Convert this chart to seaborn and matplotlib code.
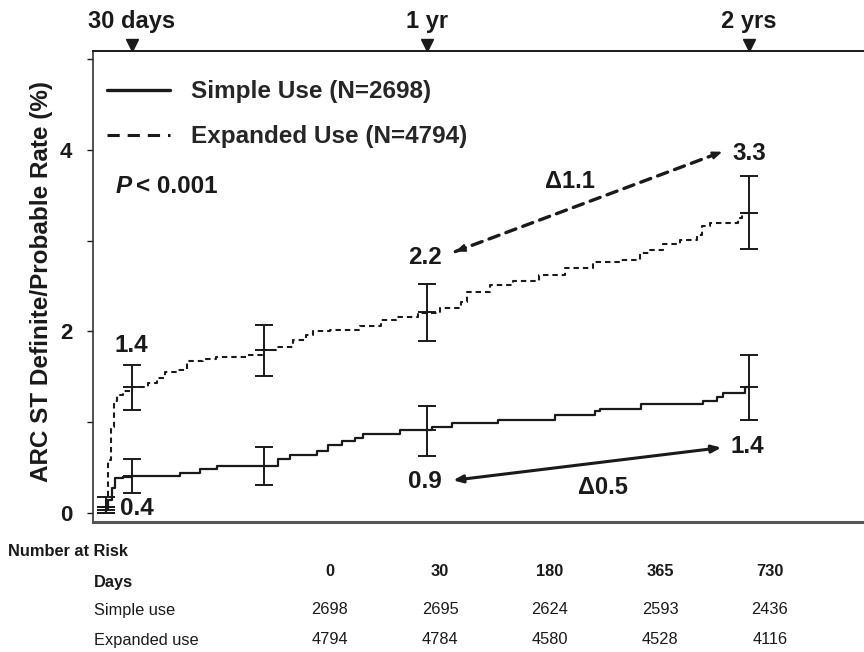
import matplotlib
matplotlib.use("Agg")
import matplotlib.pyplot as plt
import matplotlib.transforms as mtransforms
from matplotlib.lines import Line2D
import numpy as np
import pandas as pd
import seaborn as sns

# ---------------- data ----------------
exp_days = [0, 1, 3, 6, 9, 13, 20, 30, 48, 58, 67, 81, 92, 111, 125, 160, 178, 194,
            213, 228, 235, 255, 289, 313, 330, 355, 380, 404, 410, 436, 462, 492,
            521, 553, 584, 607, 618, 633, 652, 671, 677, 686, 718, 723, 730]
exp_rate = [0.0, 0.14, 0.58, 0.95, 1.23, 1.30, 1.34, 1.39, 1.43, 1.49, 1.55, 1.58,
            1.67, 1.70, 1.72, 1.74, 1.80, 1.83, 1.91, 1.96, 2.00, 2.02, 2.06, 2.13,
            2.16, 2.20, 2.26, 2.33, 2.44, 2.51, 2.56, 2.62, 2.70, 2.77, 2.79, 2.86,
            2.90, 2.96, 3.01, 3.06, 3.16, 3.19, 3.25, 3.31, 3.31]

simple_days = [0, 1, 3, 7, 11, 20, 30, 84, 107, 126, 196, 209, 240, 253, 268, 283,
               292, 334, 370, 393, 446, 510, 556, 561, 608, 678, 694, 701, 726, 730]
simple_rate = [0.0, 0.04, 0.14, 0.27, 0.38, 0.40, 0.41, 0.44, 0.48, 0.52, 0.60, 0.64,
               0.68, 0.75, 0.79, 0.83, 0.87, 0.91, 0.95, 0.99, 1.03, 1.08, 1.12, 1.15,
               1.20, 1.23, 1.28, 1.32, 1.39, 1.39]

eb_days = [1, 30, 180, 365, 730]
exp_mid = [0.07, 1.39, 1.80, 2.21, 3.31]
exp_lo = [0.00, 1.13, 1.51, 1.89, 2.91]
exp_hi = [0.18, 1.63, 2.07, 2.52, 3.71]
simple_mid = [0.03, 0.41, 0.52, 0.91, 1.39]
simple_lo = [0.00, 0.22, 0.31, 0.63, 1.03]
simple_hi = [0.07, 0.59, 0.73, 1.18, 1.74]

marker_days = [30, 365, 730]
marker_labels = ["30 days", "1 yr", "2 yrs"]

legend_labels = ["Simple Use (N=2698)", "Expanded Use (N=4794)"]

risk_days = ["0", "30", "180", "365", "730"]
risk_simple = ["2698", "2695", "2624", "2593", "2436"]
risk_expanded = ["4794", "4784", "4580", "4528", "4116"]

y_ticks = [0, 1, 2, 3, 4, 5]
y_ticklabels = ["0", "", "2", "", "4", ""]

# ---------------- style ----------------
sns.set_style("ticks")
plt.rcParams["font.family"] = ["Liberation Sans", "DejaVu Sans"]
INK = "#1a1a1a"

W, H = 864, 652
fig = plt.figure(figsize=(8.64, 6.52), dpi=100)
ax = fig.add_axes([93 / W, (H - 521.7) / H, (W - 93) / W, 470.7 / H])

df_exp = pd.DataFrame({"day": exp_days, "rate": exp_rate})
df_sim = pd.DataFrame({"day": simple_days, "rate": simple_rate})

sns.lineplot(data=df_sim, x="day", y="rate", estimator=None, drawstyle="steps-post",
             color=INK, lw=1.6, ax=ax)
sns.lineplot(data=df_exp, x="day", y="rate", estimator=None, drawstyle="steps-post",
             color=INK, lw=1.5, ax=ax)
ax.lines[-1].set_dashes([2.6, 1.9])

for mid, lo, hi in [(exp_mid, exp_lo, exp_hi), (simple_mid, simple_lo, simple_hi)]:
    mid = np.array(mid); lo = np.array(lo); hi = np.array(hi)
    ax.errorbar(eb_days, mid, yerr=[mid - lo, hi - mid], fmt="_", ms=13, mew=1.4,
                color=INK, ecolor=INK, elinewidth=1.4, capsize=6.5,
                capthick=1.4, zorder=3)

ax.set_xlim(-14.3, 861)
ax.set_ylim(-0.096, 5.09)
ax.set_yticks(y_ticks)
ax.set_yticklabels(y_ticklabels, fontsize=16, fontweight="bold")
ax.tick_params(axis="y", direction="out", length=4, width=1, pad=11, colors=INK)
ax.set_xticks([])
ax.set_xlabel("")
ax.set_ylabel("")
ax.spines["right"].set_visible(False)
ax.spines["top"].set_linewidth(1.4)
ax.spines["top"].set_color(INK)
ax.spines["left"].set_linewidth(1.2)
ax.spines["left"].set_color("#333333")
ax.spines["bottom"].set_linewidth(2.2)
ax.spines["bottom"].set_color("#555555")

fig.text(42 / W, 1 - 281 / H, "ARC ST Definite/Probable Rate (%)", rotation=90,
         ha="center", va="center", fontsize=17.5, fontweight="bold", color=INK)

# top markers
trans = mtransforms.blended_transform_factory(ax.transData, ax.transAxes)
ax.plot(marker_days, [1.0128] * len(marker_days), transform=trans, ls="none",
        marker="v", ms=9, color=INK, clip_on=False)
for d, lab in zip(marker_days, marker_labels):
    ax.text(d, 1.0637, lab, transform=trans, ha="center", va="center",
            fontsize=17, fontweight="bold", color=INK)

# legend
handles = [Line2D([], [], color=INK, lw=2.4),
           Line2D([], [], color=INK, lw=2.2, ls=(0, (4, 2.6)))]
ax.legend(handles, legend_labels, loc="upper left", bbox_to_anchor=(0.018, 0.9376),
          frameon=False, borderpad=0, borderaxespad=0, handlelength=2.6,
          handletextpad=0.88, labelspacing=0.9,
          prop={"weight": "bold", "size": 17.5})

# annotations
bold = dict(fontsize=17.5, fontweight="bold", color=INK, ha="center", va="center")
ax.text(11.7, 3.6, "P", ha="left", va="center", fontsize=17.5, fontweight="bold",
        style="italic", color=INK)
ax.text(11.7, 3.6, "< 0.001", ha="left", va="center", fontsize=17.5, fontweight="bold",
        color=INK,
        transform=mtransforms.offset_copy(ax.transData, fig=fig, x=20.5, y=0, units="dots"))
ax.text(29.6, 1.85, "1.4", **bold)
ax.text(16.3, 0.044, "0.4", **{**bold, "ha": "left"})
ax.text(362.5, 2.81, "2.2", **bold)
ax.text(731, 3.96, "3.3", **bold)
ax.text(527, 3.65, "\u03941.1", **{**bold, "fontsize": 17})
ax.text(729, 0.73, "1.4", **bold)
ax.text(362.5, 0.345, "0.9", **bold)
ax.text(564.5, 0.276, "\u03940.5", **{**bold, "fontsize": 17})

# dashed double arrow (expanded)
p1, p2 = (397, 2.88), (700, 3.98)
ax.annotate("", xy=p2, xytext=p1,
            arrowprops=dict(arrowstyle="-", lw=2.4, ls=(0, (3.2, 2.2)), color=INK,
                            shrinkA=0, shrinkB=4))
for a, b in [(p1, p2), (p2, p1)]:
    ax.annotate("", xy=a, xytext=(a[0] + (b[0] - a[0]) * 0.04, a[1] + (b[1] - a[1]) * 0.04),
                arrowprops=dict(arrowstyle="-|>,head_length=0.55,head_width=0.22",
                                lw=1.5, color=INK, shrinkA=0, shrinkB=0))

# solid double arrow (simple)
ax.annotate("", xy=(699, 0.72), xytext=(394.5, 0.36),
            arrowprops=dict(arrowstyle="<|-|>,head_length=0.55,head_width=0.22",
                            lw=2.2, color=INK, shrinkA=0, shrinkB=0))

# number at risk table
def ftxt(x, y, s, **kw):
    fig.text(x / W, 1 - y / H, s, va="center", color=INK, **kw)

TS = 11.8
ftxt(8, 551, "Number at Risk", ha="left", fontsize=TS, fontweight="bold")
ftxt(94, 582, "Days", ha="left", fontsize=TS, fontweight="bold")
ftxt(94, 610, "Simple use", ha="left", fontsize=TS)
ftxt(94, 640, "Expanded use", ha="left", fontsize=TS)
col_x = [330, 440, 550, 660, 770]
for x, d, s, e in zip(col_x, risk_days, risk_simple, risk_expanded):
    ftxt(x, 572, d, ha="center", fontsize=TS, fontweight="bold")
    ftxt(x, 610, s, ha="center", fontsize=TS)
    ftxt(x, 640, e, ha="center", fontsize=TS)

fig.savefig("out.png", dpi=100)
